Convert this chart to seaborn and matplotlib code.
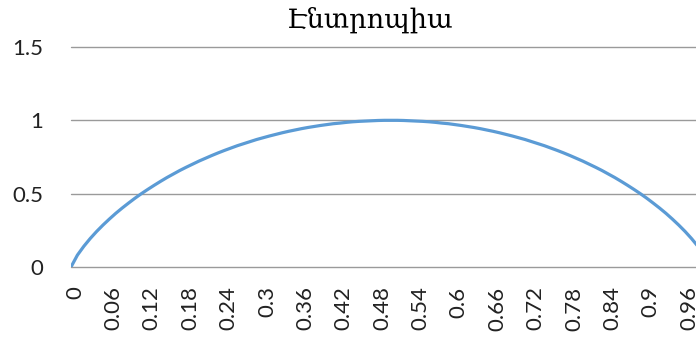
import matplotlib
matplotlib.use("Agg")
import matplotlib.pyplot as plt
import matplotlib.transforms as mtransforms
import seaborn as sns
import pandas as pd

# Probability of one outcome (category axis)
p = [0.00, 0.01, 0.02, 0.03, 0.04, 0.05, 0.06, 0.07, 0.08, 0.09,
     0.10, 0.11, 0.12, 0.13, 0.14, 0.15, 0.16, 0.17, 0.18, 0.19,
     0.20, 0.21, 0.22, 0.23, 0.24, 0.25, 0.26, 0.27, 0.28, 0.29,
     0.30, 0.31, 0.32, 0.33, 0.34, 0.35, 0.36, 0.37, 0.38, 0.39,
     0.40, 0.41, 0.42, 0.43, 0.44, 0.45, 0.46, 0.47, 0.48, 0.49,
     0.50, 0.51, 0.52, 0.53, 0.54, 0.55, 0.56, 0.57, 0.58, 0.59,
     0.60, 0.61, 0.62, 0.63, 0.64, 0.65, 0.66, 0.67, 0.68, 0.69,
     0.70, 0.71, 0.72, 0.73, 0.74, 0.75, 0.76, 0.77, 0.78, 0.79,
     0.80, 0.81, 0.82, 0.83, 0.84, 0.85, 0.86, 0.87, 0.88, 0.89,
     0.90, 0.91, 0.92, 0.93, 0.94, 0.95, 0.96, 0.97, 0.98, 0.99,
     1.00]

# Entropy (bits)
entropy = [0.000, 0.081, 0.141, 0.194, 0.242, 0.286, 0.327, 0.366, 0.402, 0.436,
           0.469, 0.500, 0.529, 0.557, 0.584, 0.610, 0.634, 0.658, 0.680, 0.701,
           0.722, 0.741, 0.760, 0.778, 0.795, 0.811, 0.827, 0.841, 0.855, 0.869,
           0.881, 0.893, 0.904, 0.915, 0.925, 0.934, 0.943, 0.951, 0.958, 0.965,
           0.971, 0.977, 0.981, 0.986, 0.990, 0.993, 0.995, 0.997, 0.999, 1.000,
           1.000, 1.000, 0.999, 0.997, 0.995, 0.993, 0.990, 0.986, 0.981, 0.977,
           0.971, 0.965, 0.958, 0.951, 0.943, 0.934, 0.925, 0.915, 0.904, 0.893,
           0.881, 0.869, 0.855, 0.841, 0.827, 0.811, 0.795, 0.778, 0.760, 0.741,
           0.722, 0.701, 0.680, 0.658, 0.634, 0.610, 0.584, 0.557, 0.529, 0.500,
           0.469, 0.436, 0.402, 0.366, 0.327, 0.286, 0.242, 0.194, 0.141, 0.081,
           0.000]

title = "Էնտրոպիա"
x_ticks = [0.00, 0.06, 0.12, 0.18, 0.24, 0.30, 0.36, 0.42, 0.48, 0.54,
           0.60, 0.66, 0.72, 0.78, 0.84, 0.90, 0.96]
x_labels = ["0", "0.06", "0.12", "0.18", "0.24", "0.3", "0.36", "0.42", "0.48",
            "0.54", "0.6", "0.66", "0.72", "0.78", "0.84", "0.9", "0.96"]
y_ticks = [0, 0.5, 1, 1.5]
y_labels = ["0", "0.5", "1", "1.5"]

sns.set_theme(style="white")
plt.rcParams["font.family"] = ["Lato", "DejaVu Sans"]

df = pd.DataFrame({"p": p, "H": entropy})

W, H = 696, 340
fig = plt.figure(figsize=(W / 100, H / 100), dpi=100)
ax = fig.add_axes([71 / W, 1 - 267 / H, (W - 71) / W, (267 - 47) / H])

sns.lineplot(data=df, x="p", y="H", ax=ax, color="#5B9BD5", linewidth=2.3)

ax.set_xlim(0, 0.977)
ax.set_ylim(0, 1.5)
ax.set_xlabel("")
ax.set_ylabel("")

for s in ax.spines.values():
    s.set_visible(False)

for yv in y_ticks:
    ax.axhline(yv, color="#9A9A9A", linewidth=1.0, zorder=0, clip_on=False)

ax.set_yticks(y_ticks)
ax.set_yticklabels(y_labels)
ax.set_xticks(x_ticks)
ax.set_xticklabels(x_labels, rotation=90)
ax.tick_params(axis="y", length=0, pad=20, labelsize=16, labelcolor="#222222")
ax.tick_params(axis="x", length=0, pad=14, labelsize=16, labelcolor="#222222")

shift = mtransforms.ScaledTranslation(4 / 100, 0, fig.dpi_scale_trans)
for lbl in ax.get_xticklabels():
    lbl.set_transform(lbl.get_transform() + shift)

fig.text(370 / W, 1 - 28 / H, title, ha="center", va="baseline", fontsize=19.5,
         family=["DejaVu Serif", "DejaVu Sans"], color="#000000")

fig.savefig("out.png", dpi=100)
